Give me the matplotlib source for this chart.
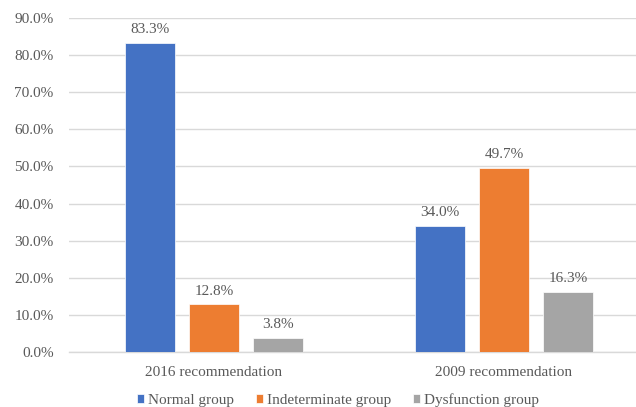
import numpy as np
import matplotlib.pyplot as plt
import matplotlib.ticker as mticker

plt.rcParams["font.family"] = ["Liberation Serif", "DejaVu Serif"]

categories = ["2016 recommendation", "2009 recommendation"]
series_names = ["Normal group", "Indeterminate group", "Dysfunction group"]
normal = [83.3, 34.0]
indeterminate = [12.8, 49.7]
dysfunction = [3.8, 16.3]
colors = ["#4472C4", "#ED7D31", "#A5A5A5"]
text_color = "#595959"

fig = plt.figure(figsize=(6.36, 4.07), dpi=100)
ax = fig.add_axes([69 / 636, 55 / 407, 1 - 69 / 636, 334 / 407])

x = np.arange(len(categories))
width = 50 / 290
step = 64 / 290
handles = []
for i, (vals, name, c) in enumerate(zip([normal, indeterminate, dysfunction], series_names, colors)):
    pos = x + (i - 1) * step
    bars = ax.bar(pos, vals, width, color=c, label=name, zorder=3,
                  edgecolor="white", linewidth=0.5)
    handles.append(bars)
    for p, v in zip(pos, vals):
        ax.annotate(f"{v:.1f}%", (p, v), xytext=(0, 5), textcoords="offset points",
                    ha="center", va="bottom", fontsize=11, color=text_color)

ax.set_xlim(-0.5, (636 - 214) / 290)
ax.set_ylim(0, 90)
ax.set_yticks(np.arange(0, 91, 10))
ax.yaxis.set_major_formatter(mticker.FuncFormatter(lambda v, _: f"{v:.1f}%"))
ax.set_xticks(x)
ax.set_xticklabels(categories)
ax.tick_params(axis="both", length=0, labelsize=11, colors=text_color)
ax.tick_params(axis="y", pad=11)
ax.tick_params(axis="x", pad=10)
ax.grid(axis="y", color="#D9D9D9", linewidth=1, zorder=0)
for s in ["top", "right", "left"]:
    ax.spines[s].set_visible(False)
ax.spines["bottom"].set_color("#D9D9D9")
ax.spines["bottom"].set_linewidth(1)

fig.legend(handles=handles, loc="center", bbox_to_anchor=(338 / 636, 7 / 407),
           ncol=3, frameon=False, fontsize=11, handlelength=0.45, handleheight=0.45,
           handletextpad=0.3, columnspacing=1.4, labelcolor=text_color)

fig.savefig("out.png", dpi=100)
